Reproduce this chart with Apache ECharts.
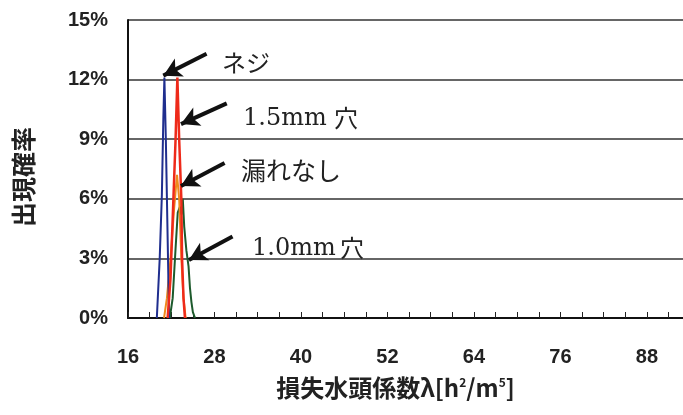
<!DOCTYPE html>
<html>
<head>
<meta charset="utf-8">
<script src="https://cdn.jsdelivr.net/npm/echarts@6/dist/echarts.min.js"></script>
<style>html,body{margin:0;padding:0;background:#fff;}#c{width:683px;height:415px;}</style>
</head>
<body>
<div id="c"></div>
<script>
// x tick label values and tick values
const xLabelValues = [16, 28, 40, 52, 64, 76, 88];
const xTickValues = [16,19,22,25,28,31,34,37,40,43,46,49,52,55,58,61,64,67,70,73,76,79,82,85,88,91];
// series: [lambda, probability %]
const nejiData = [[20.0,0],[20.4,3],[20.7,6.2],[20.9,10],[21.05,12.1],[21.25,9],[21.4,6],[21.6,2],[21.7,0]];
const hole15Data = [[21.5,0],[21.9,2],[22.3,6],[22.6,9],[22.85,12.1],[23.1,9],[23.4,6],[23.5,3],[23.7,1],[23.9,0]];
const noLeakData = [[21.0,0],[21.4,1],[21.9,3],[22.4,5.5],[22.8,7.2],[23.1,6],[23.4,3],[23.7,1],[24.0,0]];
const hole10Data = [[21.8,0],[22.2,1],[22.6,3.5],[22.9,5.3],[23.2,5.6],[23.4,5.2],[23.6,6.0],[23.8,4.6],[24.1,3.4],[24.4,2.6],[24.6,1.5],[24.8,0.8],[25.0,0.3],[25.3,0]];
// annotation arrows: [tail, tip] in data units
const arrowNeji = [[26.9,13.3],[20.9,12.2]];
const arrow15 = [[29.7,10.8],[23.35,9.76]];
const arrowNoLeak = [[29.4,7.8],[23.35,6.64]];
const arrow10 = [[30.5,4.1],[24.45,2.92]];

const arrowLines = [arrowNeji, arrow15, arrowNoLeak, arrow10].map(a => [{coord: a[0]}, {coord: a[1]}]);

const chart = echarts.init(document.getElementById('c'));
const lineBase = {type:'line', showSymbol:false, symbol:'none', smooth:false, animation:false};
chart.setOption({
  animation: false,
  backgroundColor: '#fff',
  grid: {left: 128, top: 20, right: 0, bottom: 97, containLabel: false},
  xAxis: {
    type: 'value', min: 16, max: 93,
    name: '損失水頭係数λ[h{sup|2}/m{sup|5}]',
    nameLocation: 'middle', nameGap: 58,
    nameTextStyle: {fontFamily: 'Noto Sans CJK JP', fontWeight: 'bold', fontSize: 24, color: '#222', padding: [0, 20, 0, 0],
      rich: {sup: {fontFamily: 'Noto Sans CJK JP', fontSize: 12, color: '#222', padding: [0, 0, 12, 0]}}},
    axisLine: {show: true, lineStyle: {color: '#111', width: 2}},
    axisTick: {show: true, inside: true, length: 6, customValues: xTickValues, lineStyle: {color: '#222', width: 1}},
    axisLabel: {customValues: xLabelValues, margin: 29, fontFamily: 'Liberation Sans', fontWeight: 'bold', fontSize: 20, color: '#222'},
    splitLine: {show: false}
  },
  yAxis: {
    type: 'value', min: 0, max: 15, interval: 3,
    name: '出現確率', nameLocation: 'middle', nameGap: 92, nameRotate: 90,
    nameTextStyle: {fontFamily: 'Noto Sans CJK JP', fontWeight: 'bold', fontSize: 25, color: '#222', padding: [0, 16, 0, 0]},
    axisLine: {show: true, lineStyle: {color: '#111', width: 2}},
    axisTick: {show: false},
    axisLabel: {formatter: '{value}%', margin: 20, fontFamily: 'Liberation Sans', fontWeight: 'bold', fontSize: 20, color: '#222'},
    splitLine: {show: true, lineStyle: {color: '#333', width: 1.5}}
  },
  series: [
    Object.assign({}, lineBase, {name: '1.0mm 穴', data: hole10Data, lineStyle: {color: '#1d5a2c', width: 2}, itemStyle: {color: '#1d5a2c'}}),
    Object.assign({}, lineBase, {name: '漏れなし', data: noLeakData, lineStyle: {color: '#f08a1c', width: 2}, itemStyle: {color: '#f08a1c'}}),
    Object.assign({}, lineBase, {name: 'ネジ', data: nejiData, lineStyle: {color: '#1f2e8e', width: 2}, itemStyle: {color: '#1f2e8e'}}),
    Object.assign({}, lineBase, {name: '1.5mm 穴', data: hole15Data, lineStyle: {color: '#ee2a1a', width: 2.5}, itemStyle: {color: '#ee2a1a'},
      markLine: {silent: true, animation: false, symbol: ['none', 'arrow'], symbolSize: [15, 18],
        label: {show: false}, lineStyle: {color: '#111', width: 4, type: 'solid'}, emphasis: {disabled: true},
        data: arrowLines}})
  ],
  graphic: [
    {type: 'text', x: 222, y: 63, style: {text: 'ネジ', font: '24px "Noto Sans CJK JP"', fill: '#222', verticalAlign: 'middle'}},
    {type: 'text', x: 243, y: 119, style: {text: '1.5mm', font: '24px "DejaVu Serif"', fill: '#222', verticalAlign: 'middle'}},
    {type: 'text', x: 334, y: 118, style: {text: '穴', font: '24px "Noto Sans CJK JP"', fill: '#222', verticalAlign: 'middle'}},
    {type: 'text', x: 241, y: 170, style: {text: '漏れなし', font: '25px "Noto Sans CJK JP"', fill: '#222', verticalAlign: 'middle'}},
    {type: 'text', x: 252, y: 249, style: {text: '1.0mm', font: '24px "DejaVu Serif"', fill: '#222', verticalAlign: 'middle'}},
    {type: 'text', x: 340, y: 248, style: {text: '穴', font: '24px "Noto Sans CJK JP"', fill: '#222', verticalAlign: 'middle'}}
  ]
});
</script>
</body>
</html>
